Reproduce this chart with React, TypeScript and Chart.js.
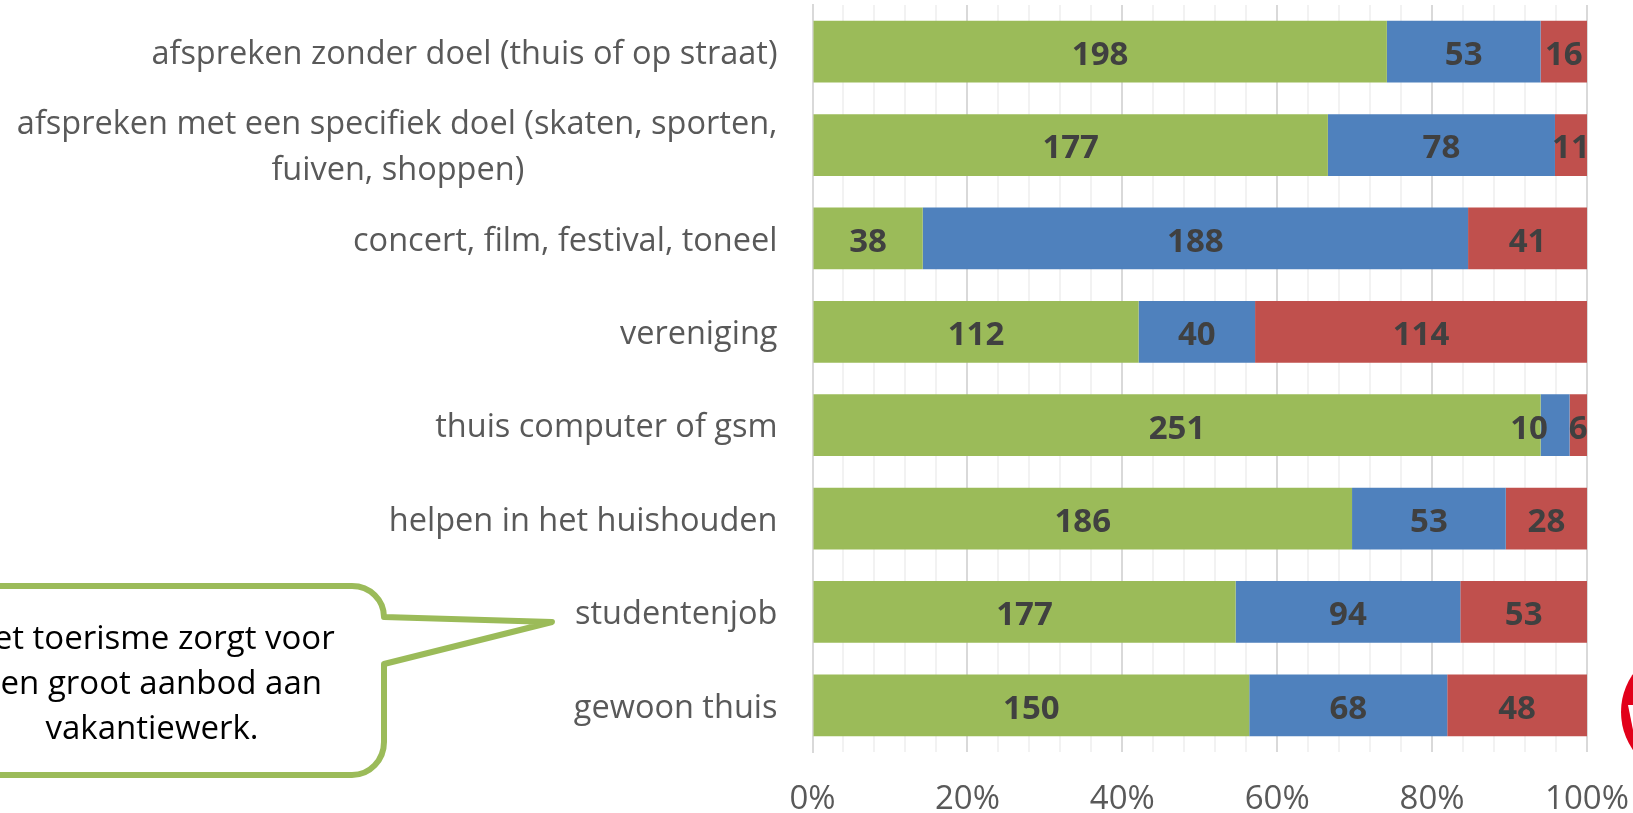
import React, { useEffect, useRef } from "react";
import { Chart, registerables } from "chart.js";

Chart.register(...registerables);

const categories: (string | string[])[] = [
  "afspreken zonder doel (thuis of op straat)",
  ["afspreken met een specifiek doel (skaten, sporten,", "fuiven, shoppen)"],
  "concert, film, festival, toneel",
  "vereniging",
  "thuis computer of gsm",
  "helpen in het huishouden",
  "studentenjob",
  "gewoon thuis",
];
const greenValues = [198, 177, 38, 112, 251, 186, 177, 150];
const blueValues = [53, 78, 188, 40, 10, 53, 94, 68];
const redValues = [16, 11, 41, 114, 6, 28, 53, 48];
const calloutLines = ["Het toerisme zorgt voor", "een groot aanbod aan", "vakantiewerk."];

const FONT = '"Open Sans", "Noto Sans", sans-serif';
const totals = greenValues.map((v, i) => v + blueValues[i] + redValues[i]);
const share = (arr: number[]) => arr.map((v, i) => (v / totals[i]) * 100);

const zeroPadding = (s: any) => {
  s.paddingTop = 0;
  s.paddingBottom = 0;
  s.paddingLeft = 0;
  s.paddingRight = 0;
};

const overlay = {
  id: "overlay",
  afterDatasetsDraw(chart: any) {
    const { ctx } = chart;
    ctx.save();
    ctx.font = `bold 33px ${FONT}`;
    ctx.fillStyle = "#404040";
    ctx.textAlign = "center";
    ctx.textBaseline = "middle";
    chart.data.datasets.forEach((ds: any, d: number) => {
      chart.getDatasetMeta(d).data.forEach((bar: any, i: number) => {
        const p = bar.getProps(["x", "base", "y"], true);
        // the narrow "10" label is moved left of its sliver, as in the original
        const shift = d === 1 && i === 4 ? -26 : 0;
        ctx.fillText(String(ds.raw[i]), (p.x + p.base) / 2 + shift, p.y + 4);
      });
    });
    ctx.restore();

    // callout
    ctx.save();
    ctx.beginPath();
    ctx.moveTo(-10, 586);
    ctx.lineTo(352, 586);
    ctx.bezierCurveTo(370, 586, 384, 600, 384, 617);
    ctx.lineTo(552, 622);
    ctx.lineTo(384, 664);
    ctx.lineTo(384, 742);
    ctx.bezierCurveTo(384, 760, 370, 775, 352, 775);
    ctx.lineTo(-10, 775);
    ctx.closePath();
    ctx.fillStyle = "#ffffff";
    ctx.fill();
    ctx.strokeStyle = "#9bbb59";
    ctx.lineWidth = 6;
    ctx.lineJoin = "round";
    ctx.stroke();
    ctx.font = `33px ${FONT}`;
    ctx.fillStyle = "#000000";
    ctx.textAlign = "center";
    ctx.textBaseline = "middle";
    calloutLines.forEach((l, i) => ctx.fillText(l, 152, 640 + i * 45));
    ctx.restore();

    // logo cut off by the right edge
    ctx.save();
    ctx.beginPath();
    ctx.arc(1687, 712, 66, 0, Math.PI * 2);
    ctx.fillStyle = "#e2001a";
    ctx.fill();
    ctx.beginPath();
    ctx.moveTo(1628, 705);
    ctx.lineTo(1640, 705);
    ctx.lineTo(1640, 765);
    ctx.closePath();
    ctx.fillStyle = "#ffffff";
    ctx.fill();
    ctx.restore();
  },
};

export default function App() {
  const ref = useRef<HTMLCanvasElement>(null);
  useEffect(() => {
    const chart = new Chart(ref.current!, {
      type: "bar",
      data: {
        labels: categories as any,
        datasets: [
          { label: "groen", data: share(greenValues), raw: greenValues, backgroundColor: "#9bbb59" },
          { label: "blauw", data: share(blueValues), raw: blueValues, backgroundColor: "#4f81bd" },
          { label: "rood", data: share(redValues), raw: redValues, backgroundColor: "#c0504d" },
        ] as any,
      },
      options: {
        animation: false,
        responsive: false,
        indexAxis: "y",
        layout: { padding: { top: 5, right: 46, left: 0, bottom: 0 } },
        datasets: { bar: { categoryPercentage: 1, barPercentage: 0.662 } },
        plugins: { legend: { display: false }, tooltip: { enabled: false } },
        scales: {
          x: {
            stacked: true,
            min: 0,
            max: 100,
            afterFit: (s: any) => {
              s.height = 61;
              zeroPadding(s);
            },
            ticks: {
              stepSize: 4,
              autoSkip: false,
              maxRotation: 0,
              padding: 28,
              color: "#595959",
              font: { family: FONT, size: 33 },
              callback: (v: any) => (Number(v) % 20 === 0 ? `${v}%` : ""),
            },
            grid: {
              drawTicks: false,
              lineWidth: 2,
              color: (c: any) => (c.tick && c.tick.value % 20 === 0 ? "#d9d9d9" : "#f2f2f2"),
            },
            border: { display: false },
          },
          y: {
            stacked: true,
            afterFit: (s: any) => {
              s.width = 812.5;
              zeroPadding(s);
            },
            ticks: {
              padding: 35,
              labelOffset: 3,
              autoSkip: false,
              color: "#595959",
              font: { family: FONT, size: 32.5, lineHeight: 1.41 },
              // the wrapped label's short line is centred under its long line
              callback(this: any, v: any) {
                const l = categories[v];
                return Array.isArray(l) ? [l[0], l[1] + "\u00a0".repeat(30)] : l;
              },
            },
            grid: { display: false, drawTicks: false },
            border: { color: "#d9d9d9", width: 2 },
          },
        },
      },
      plugins: [overlay],
    } as any);
    return () => chart.destroy();
  }, []);
  return (
    <canvas
      ref={ref}
      width={1633}
      height={813}
      style={{ position: "fixed", left: 0, top: 0, width: 1633, height: 813, display: "block" }}
    />
  );
}
